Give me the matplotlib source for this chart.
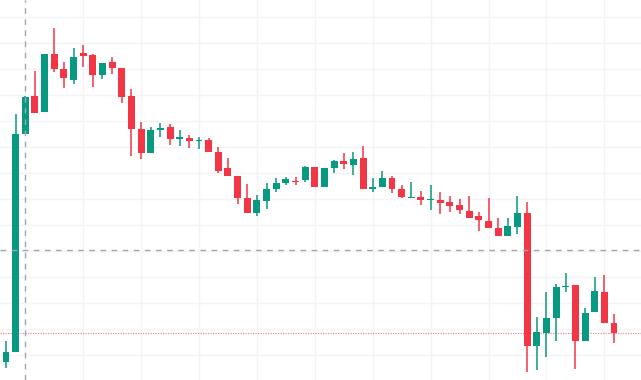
"""Candlestick chart recreation."""

import matplotlib

matplotlib.use("Agg")
import numpy as np
from matplotlib import pyplot as plt

opens = [
    7.3, 11.2, 95.0, 109.6, 103.5, 125.8, 120.0, 115.8, 126.2, 125.4,
    117.7, 122.7, 120.4, 109.6, 96.9, 87.7, 96.5, 97.7, 93.1, 93.5,
    92.3, 92.7, 88.1, 81.9, 78.8, 70.4, 64.6, 69.2, 73.8, 76.2,
    76.9, 77.3, 82.3, 74.6, 81.9, 84.6, 83.1, 85.8, 73.8, 74.6,
    78.1, 73.8, 70.4, 70.8, 69.6, 69.6, 68.8, 67.7, 65.4, 63.5,
    61.5, 58.8, 55.8, 59.2, 64.6, 13.5, 18.5, 24.2, 36.2, 36.9,
    15.4, 26.5, 34.2, 22.3,
]
closes = [
    11.2, 95.0, 109.2, 103.1, 125.8, 120.0, 116.5, 124.6, 125.0, 117.7,
    122.3, 120.4, 109.2, 96.9, 87.7, 96.5, 97.3, 93.1, 93.8, 92.3,
    92.7, 88.1, 80.8, 78.8, 70.4, 64.6, 69.6, 73.8, 76.2, 77.7,
    76.5, 82.3, 74.6, 81.9, 84.6, 83.5, 85.4, 73.8, 74.6, 78.1,
    73.8, 70.8, 70.8, 69.6, 70.0, 68.5, 67.3, 65.8, 62.7, 61.9,
    58.8, 55.8, 59.6, 64.6, 13.5, 18.8, 24.2, 36.2, 36.5, 15.4,
    26.2, 34.6, 22.3, 18.5,
]
highs = [
    15.4, 102.7, 109.6, 119.2, 125.8, 135.8, 122.7, 128.1, 129.2, 125.8,
    122.3, 124.6, 120.4, 112.3, 99.6, 97.7, 99.2, 98.8, 96.5, 94.6,
    93.8, 93.5, 90.0, 85.8, 78.8, 75.8, 71.5, 76.2, 78.1, 78.5,
    78.5, 82.7, 82.3, 81.9, 85.0, 87.7, 88.1, 90.4, 78.1, 80.8,
    78.8, 75.4, 76.5, 73.1, 75.4, 72.7, 71.2, 70.0, 71.2, 65.0,
    70.4, 62.7, 62.7, 71.2, 68.8, 24.6, 34.2, 37.3, 41.5, 36.9,
    28.1, 40.0, 40.8, 25.8,
]
lows = [
    5.0, 11.2, 95.0, 103.1, 103.5, 118.8, 112.7, 114.2, 120.8, 113.1,
    116.2, 118.1, 106.9, 86.5, 85.4, 87.7, 93.8, 90.8, 90.4, 89.6,
    89.2, 88.1, 80.0, 78.8, 68.1, 64.6, 63.5, 66.2, 72.7, 75.4,
    75.4, 76.5, 74.6, 74.6, 80.0, 81.5, 79.2, 73.8, 72.7, 74.6,
    72.3, 70.4, 70.4, 67.7, 65.8, 64.2, 65.0, 64.2, 62.7, 57.7,
    58.8, 55.8, 55.8, 56.5, 3.5, 4.2, 9.2, 15.4, 34.2, 4.6,
    15.4, 26.5, 22.3, 14.6,
]

crosshair_index = 2
crosshair_price = 50.2

UP = "#089981"
DOWN = "#F23645"
GRID = "#f4f4f7"

fig = plt.figure(figsize=(6.41, 3.80), dpi=100)
ax = fig.add_axes([0, 0, 1, 1])

idx = np.arange(len(opens))
o = np.array(opens)
c = np.array(closes)
h = np.array(highs)
lo = np.array(lows)
colors = np.where(c >= o, UP, DOWN)

ax.set_xlim(-0.62, 65.8)
ax.set_ylim(0.385, 146.5)

# grid
for gx in range(2, 64, 6):
    ax.axvline(gx, color=GRID, linewidth=1, zorder=0)
for gy in range(10, 150, 10):
    ax.axhline(gy, color=GRID, linewidth=1, zorder=0)

ax.vlines(idx, lo, h, colors=colors, linewidth=1.1, zorder=2)
body_bottom = np.minimum(o, c)
body_height = np.maximum(np.abs(c - o), 0.45)
ax.bar(idx, body_height, bottom=body_bottom, width=0.72, color=colors,
       linewidth=0, zorder=3)

# crosshair and last price line
ax.axvline(crosshair_index, color="#a3a6ad", linestyle=(0, (4, 4)),
           linewidth=1, zorder=4)
ax.axhline(crosshair_price, color="#a3a6ad", linestyle=(0, (4, 4)),
           linewidth=1, zorder=4)
ax.axhline(closes[-1], color="#f58a93", linestyle=(0, (1, 1)),
           linewidth=0.9, zorder=1)

ax.set_axis_off()
fig.savefig("out.png", dpi=100)
